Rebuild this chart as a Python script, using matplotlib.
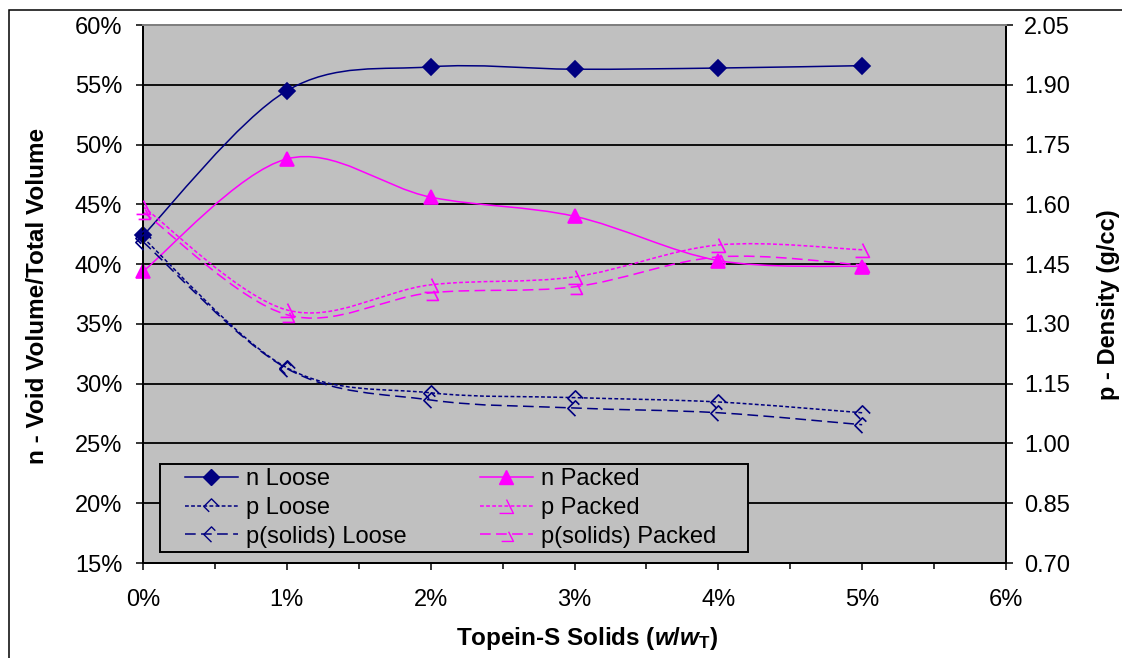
import numpy as np
import matplotlib
matplotlib.use('Agg')
import matplotlib.pyplot as plt
from matplotlib.path import Path
from matplotlib.patches import PathPatch, Rectangle
from matplotlib.lines import Line2D
from matplotlib.ticker import FuncFormatter, MultipleLocator

plt.rcParams['font.family'] = ['Liberation Sans', 'DejaVu Sans']
plt.rcParams['mathtext.fontset'] = 'custom'
plt.rcParams['mathtext.rm'] = 'Liberation Sans:bold'
plt.rcParams['mathtext.it'] = 'Liberation Sans:bold:italic'
plt.rcParams['mathtext.bf'] = 'Liberation Sans:bold'

# data
solids = [0, 1, 2, 3, 4, 5]  # Topein-S solids, %
n_loose = [42.4, 54.5, 56.5, 56.3, 56.4, 56.6]  # void fraction, %
n_packed = [39.4, 48.8, 45.6, 44.0, 40.3, 39.8]
p_loose = [1.516, 1.190, 1.127, 1.115, 1.104, 1.077]  # density, g/cc
p_solids_loose = [1.506, 1.188, 1.109, 1.089, 1.077, 1.047]
p_packed = [1.594, 1.335, 1.398, 1.418, 1.498, 1.486]
p_solids_packed = [1.581, 1.323, 1.378, 1.393, 1.468, 1.448]
density_ticks = [0.70, 0.85, 1.00, 1.15, 1.30, 1.45, 1.60, 1.75, 1.90, 2.05]

NAVY = '#000080'
MAGENTA = '#FF00FF'
FS = 17

# broken outline markers, like excel's dashed marker borders
m_diamond_a = Path([(1, 0), (0, 1), (-1, 0), (-0.3, -0.7)])
m_diamond_b = Path([(0.5, 0.5), (0, 1), (-1, 0), (0, -1)])
m_tri_a = Path([(0, 1), (1, -1), (-1, -1)])
m_tri_b = Path([(0.3, 0.4), (1, -1), (-0.7, -1)])


def smooth_path(xs, ys):
    # excel style smoothed line: cubic bezier through every point
    pts = np.column_stack([xs, ys]).astype(float)
    verts = [pts[0]]
    codes = [Path.MOVETO]
    n = len(pts)
    for i in range(n - 1):
        p0 = pts[max(i - 1, 0)]
        p1 = pts[i]
        p2 = pts[i + 1]
        p3 = pts[min(i + 2, n - 1)]
        verts += [p1 + (p2 - p0) / 6, p2 - (p3 - p1) / 6, p2]
        codes += [Path.CURVE4] * 3
    return Path(verts, codes)


def draw(ax, ys, color, ls, marker, ms, filled):
    ax.add_patch(PathPatch(smooth_path(solids, ys), fill=False, edgecolor=color,
                           lw=1.1, linestyle=ls, capstyle='butt'))
    ax.plot(solids, ys, ls='none', marker=marker, ms=ms, mec=color, mew=1.2,
            mfc=color if filled else 'none', clip_on=False, zorder=5)


fig = plt.figure(figsize=(11.22, 6.58), dpi=100)
ax = fig.add_axes([143 / 1122, 1 - 563 / 658, 863 / 1122, 538 / 658])
ax2 = ax.twinx()
ax.set_facecolor('#C0C0C0')

dot = (0, (2.5, 1.5))
dash = (0, (7, 3.5))

draw(ax, n_loose, NAVY, '-', 'D', 8.5, True)
draw(ax, n_packed, MAGENTA, '-', '^', 10, True)
draw(ax2, p_loose, NAVY, dot, m_diamond_a, 11, False)
draw(ax2, p_solids_loose, NAVY, dash, m_diamond_b, 11, False)
draw(ax2, p_packed, MAGENTA, dot, m_tri_a, 10, False)
draw(ax2, p_solids_packed, MAGENTA, dash, m_tri_b, 10, False)

ax.set_xlim(0, 6)
ax.set_ylim(15, 60)
ax2.set_ylim(density_ticks[0], density_ticks[-1])
ax.xaxis.set_major_locator(MultipleLocator(1))
ax.xaxis.set_minor_locator(MultipleLocator(0.5))
ax.yaxis.set_major_locator(MultipleLocator(5))
ax2.set_yticks(density_ticks)
pct = FuncFormatter(lambda v, p: f'{v:.0f}%')
ax.xaxis.set_major_formatter(pct)
ax.yaxis.set_major_formatter(pct)
ax2.yaxis.set_major_formatter(FuncFormatter(lambda v, p: f'{v:.2f}'))

ax.tick_params(axis='x', which='major', direction='out', length=5, width=1.1,
               pad=14, labelsize=FS)
ax.tick_params(axis='x', which='minor', direction='out', length=4, width=1.1)
ax.tick_params(axis='y', direction='out', length=5, width=1.1, pad=10, labelsize=FS)
ax2.tick_params(axis='y', direction='out', length=5, width=1.1, pad=8, labelsize=FS)

ax.grid(axis='y', color='black', lw=1.3)
ax.set_axisbelow(True)
for a in (ax, ax2):
    for side in ('left', 'right', 'bottom'):
        a.spines[side].set_linewidth(1.4)
        a.spines[side].set_color('black')
    a.spines['top'].set_color('#808080')
    a.spines['top'].set_linewidth(1.4)

fig.text(38 / 1122, 1 - 296 / 658, 'n - Void Volume/Total Volume', rotation=90,
         ha='center', va='center', fontsize=17.5, fontweight='bold')
fig.text(1108 / 1122, 1 - 305 / 658, 'p - Density (g/cc)', rotation=90,
         ha='center', va='center', fontsize=17, fontweight='bold')
fig.text(587 / 1122, 1 - 639 / 658, r'Topein-S Solids ($w$/$w_\mathrm{T}$)',
         ha='center', va='center', fontsize=17.5, fontweight='bold')

handles = [
    Line2D([], [], color=NAVY, lw=1.1, marker='D', ms=8.5, mfc=NAVY),
    Line2D([], [], color=NAVY, lw=1.1, ls=dot, marker=m_diamond_a, ms=11, mfc='none'),
    Line2D([], [], color=NAVY, lw=1.1, ls=dash, marker=m_diamond_b, ms=11, mfc='none'),
    Line2D([], [], color=MAGENTA, lw=1.1, marker='^', ms=10, mfc=MAGENTA),
    Line2D([], [], color=MAGENTA, lw=1.1, ls=dot, marker=m_tri_a, ms=10, mfc='none'),
    Line2D([], [], color=MAGENTA, lw=1.1, ls=dash, marker=m_tri_b, ms=10, mfc='none'),
]
labels = ['n Loose', 'p Loose', 'p(solids) Loose',
          'n Packed', 'p Packed', 'p(solids) Packed']

# legend box drawn separately so its padding can match the original
box = Rectangle((160 / 1122, 1 - 552 / 658), 588 / 1122, 88 / 658,
                transform=fig.transFigure, facecolor='#C0C0C0',
                edgecolor='black', lw=1.4, zorder=8, clip_on=False)
ax2.add_artist(box)
leg = ax2.legend(handles, labels, ncol=2, loc='upper left',
                 bbox_to_anchor=(185 / 1122, 1 - 468 / 658),
                 bbox_transform=fig.transFigure, borderaxespad=0,
                 borderpad=0, fontsize=FS, frameon=False, handlelength=2.24,
                 handletextpad=0.34, columnspacing=3.1, labelspacing=0.29)
leg.set_zorder(10)

# outer chart frame
fig.patches.append(Rectangle((9 / 1122, -0.1), 1.2, 1 - 10 / 658 + 0.1,
                             transform=fig.transFigure, fill=False,
                             edgecolor='black', lw=1.1))

fig.savefig('out.png', dpi=100)
